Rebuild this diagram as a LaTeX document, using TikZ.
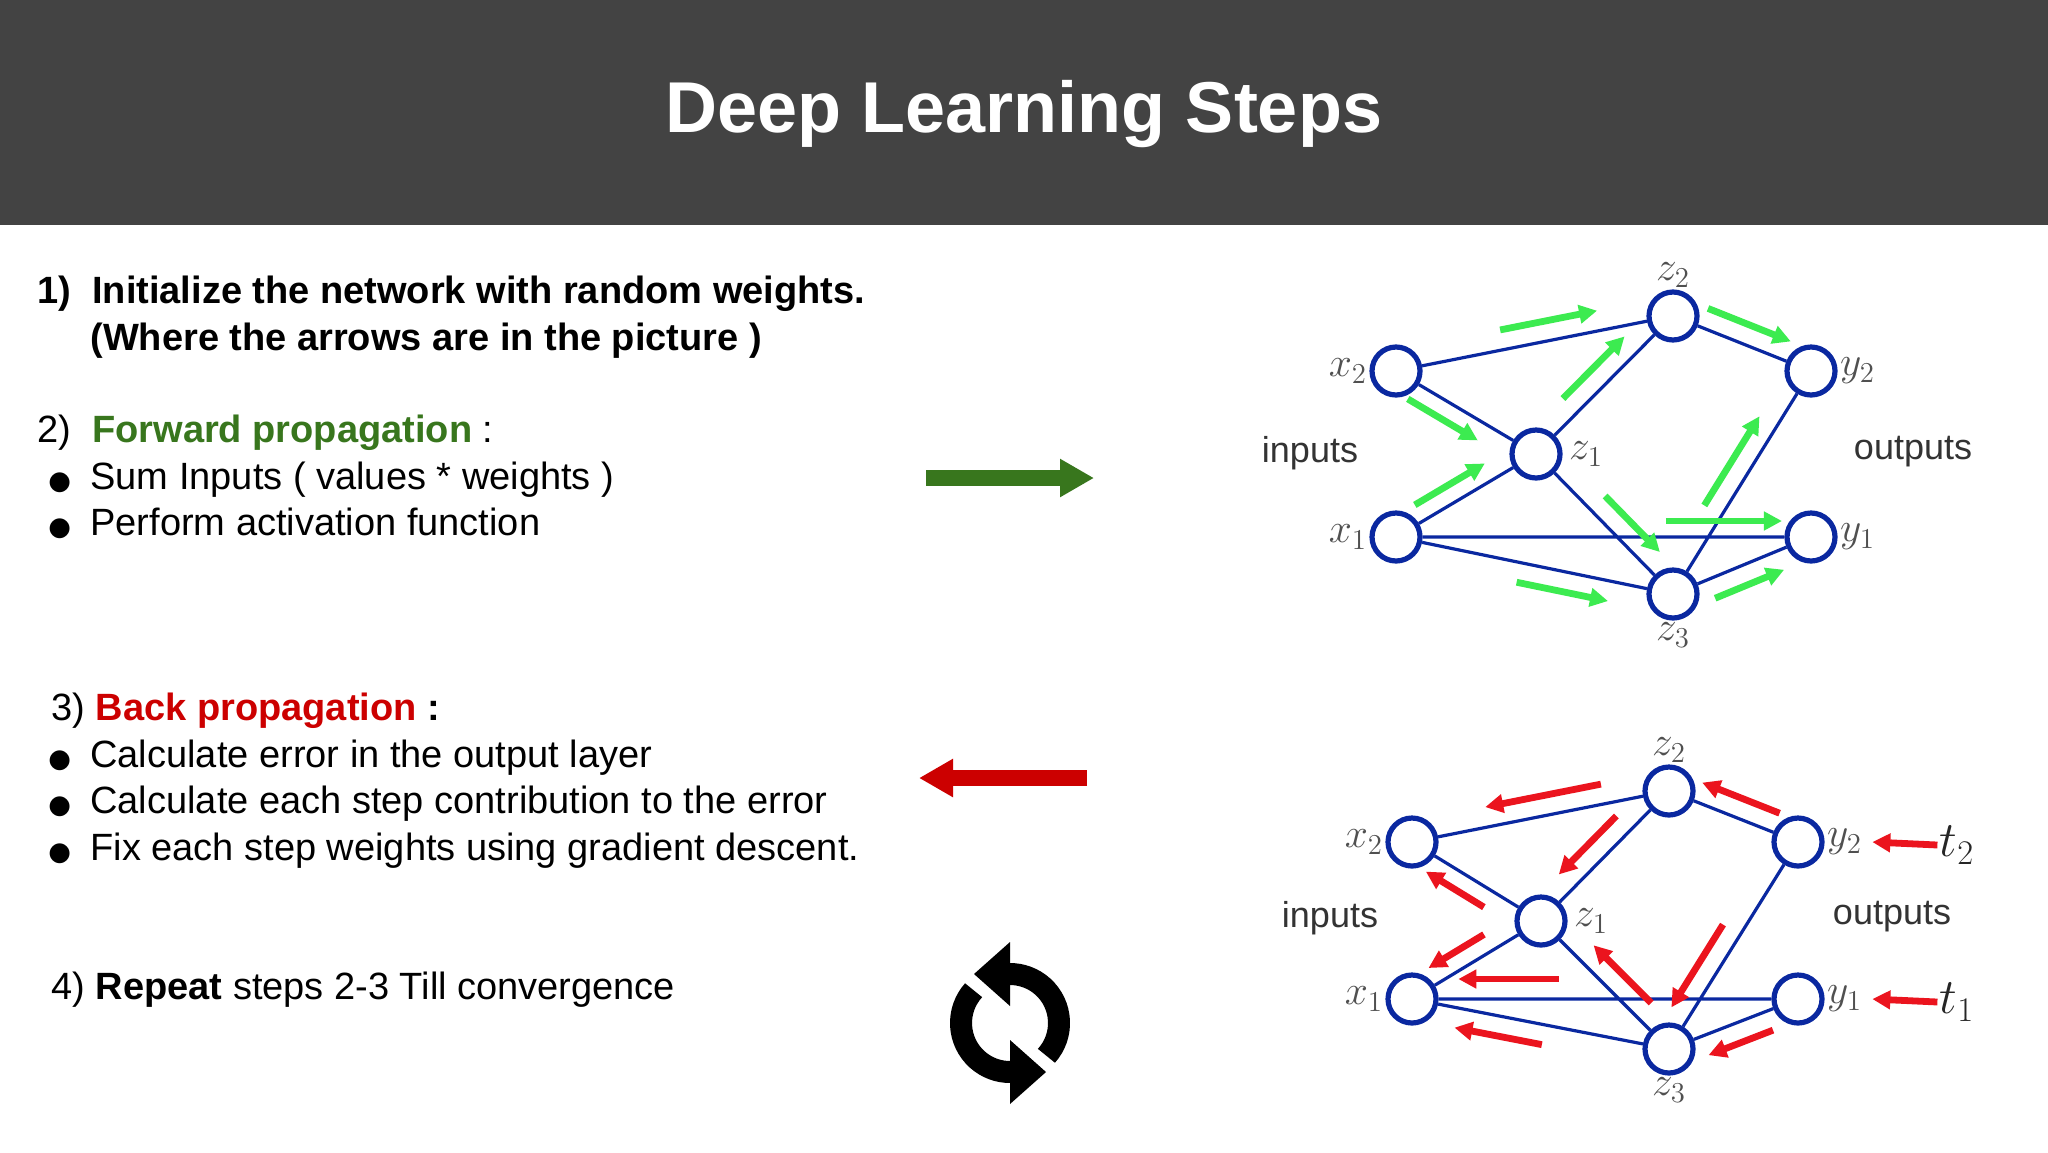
\documentclass[tikz,border=0pt]{standalone}
\usepackage{fontspec}
\setmainfont{Liberation Sans}
\newfontfamily\djv{DejaVu Sans}
\usetikzlibrary{calc,arrows.meta}
\definecolor{hdr}{HTML}{434343}
\definecolor{fgreen}{HTML}{38761D}
\definecolor{bred}{HTML}{CC0000}
\definecolor{nblue}{RGB}{10,40,160}
\definecolor{agreen}{RGB}{60,235,80}
\definecolor{ared}{RGB}{235,20,30}
\definecolor{lblg}{RGB}{80,80,80}
\tikzset{
  neuron/.style={circle,draw=nblue,line width=2.6pt,minimum size=24pt,inner sep=0pt,fill=white},
  edge/.style={draw=nblue,line width=1.6pt},
  body/.style={anchor=base west,font=\fontsize{19}{23}\selectfont,inner sep=0pt},
  mlbl/.style={text=lblg,font=\fontsize{20}{24}\selectfont,inner sep=1pt},
  slbl/.style={text=black!80,font=\fontsize{18}{22}\selectfont,inner sep=0pt},
  garr/.style={draw=agreen,line width=3.4pt,-{Triangle[length=9pt,width=9pt]}},
  rarr/.style={draw=ared,line width=3.4pt,-{Triangle[length=9pt,width=9pt]}},
  syncarc/.style={black,line width=11pt},
}
\newcommand\flowarr[6]{\draw[#1] ($($(#2)!#4!(#3)$)!#6!90:(#3)$) -- ($($(#2)!#5!(#3)$)!#6!90:(#3)$);}
\begin{document}
\begin{tikzpicture}[x=0.5pt,y=-0.5pt]
\useasboundingbox (0,0) rectangle (2048,1152);
\fill[white] (0,0) rectangle (2048,1152);
\fill[hdr] (0,0) rectangle (2048,225);
\node[text=white,font=\fontsize{36}{42}\bfseries] (title) at (1024,114) {Deep Learning Steps};

\node[body] (s1) at (37,303) {\textbf{1)\ \ Initialize the network with random weights.}};
\node[body] (s1b) at (90,350) {\textbf{(Where the arrows are in the picture )}};
\node[body] (s2) at (37,442) {2)\ \ \textcolor{fgreen}{\textbf{Forward propagation}} :};
\node[body] (b1) at (48,489) {{\djv\fontsize{13}{15}\selectfont ●}};
\node[body] (t1) at (90,489) {Sum Inputs ( values * weights )};
\node[body] (b2) at (48,535) {{\djv\fontsize{13}{15}\selectfont ●}};
\node[body] (t2) at (90,535) {Perform activation function};
\node[body] (s3) at (51,720) {3) \textcolor{bred}{\textbf{Back propagation}} \textbf{:}};
\node[body] (b3) at (48,767) {{\djv\fontsize{13}{15}\selectfont ●}};
\node[body] (t3) at (90,767) {Calculate error in the output layer};
\node[body] (b4) at (48,813) {{\djv\fontsize{13}{15}\selectfont ●}};
\node[body] (t4) at (90,813) {Calculate each step contribution to the error};
\node[body] (b5) at (48,860) {{\djv\fontsize{13}{15}\selectfont ●}};
\node[body] (t5) at (90,860) {Fix each step weights using gradient descent.};
\node[body] (s4) at (51,999) {4) \textbf{Repeat} steps 2-3 Till convergence};

% big arrows
\coordinate (ga) at (926,478); \coordinate (gb) at (1094,478);
\draw[fgreen,line width=8pt,-{Triangle[length=17pt,width=18pt]}] (ga) -- (gb);
\coordinate (ra) at (1087,778); \coordinate (rb) at (919,778);
\draw[bred,line width=8pt,-{Triangle[length=17pt,width=18pt]}] (ra) -- (rb);

% refresh icon
\coordinate (rc) at (1010,1023);
\begin{scope}[shift={(rc)},x=1pt,y=1pt]
\draw[syncarc] (-42:24.5) arc (-42:91:24.5);
\fill[black] (0,8.5) -- (0,40.5) -- (-18,24.5) -- cycle;
\draw[syncarc] (138:24.5) arc (138:271:24.5);
\fill[black] (0,-8.5) -- (0,-40.5) -- (18,-24.5) -- cycle;
\end{scope}

% top network
\node[neuron] (x2) at (1396,371) {};
\node[neuron] (z2) at (1673,316) {};
\node[neuron] (y2) at (1811,371) {};
\node[neuron] (z1) at (1536,454) {};
\node[neuron] (x1) at (1396,537) {};
\node[neuron] (y1) at (1811,537) {};
\node[neuron] (z3) at (1673,594) {};
\path[edge] (x2)--(z2) (x2)--(z1) (z1)--(z2) (z1)--(x1) (z1)--(z3) (x1)--(y1) (x1)--(z3) (z2)--(y2) (y2)--(z3) (z3)--(y1);
\node[mlbl,anchor=east] (lx2) at (x2.west) {$x_2$};
\node[mlbl,anchor=east] (lx1) at (x1.west) {$x_1$};
\node[mlbl,anchor=west] (ly2) at (y2.east) {$y_2$};
\node[mlbl,anchor=west] (ly1) at (y1.east) {$y_1$};
\node[mlbl,anchor=west] (lz1) at ([xshift=2pt]z1.east) {$z_1$};
\node[mlbl,anchor=south] (lz2) at (z2.north) {$z_2$};
\node[mlbl,anchor=north] (lz3) at (z3.south) {$z_3$};
\node[slbl] (inp) at (1310,453) {inputs};
\node[slbl] (outp) at (1913,452) {outputs};
\flowarr{garr}{x2}{z2}{0.39}{0.74}{10pt}
\flowarr{garr}{x2}{z1}{0.15}{0.65}{-9pt}
\flowarr{garr}{x1}{z1}{0.2}{0.7}{9pt}
\flowarr{garr}{z1}{z2}{0.3}{0.75}{10pt}
\flowarr{garr}{z2}{y2}{0.2}{0.8}{10pt}
\flowarr{garr}{z1}{z3}{0.4}{0.8}{10pt}
\flowarr{garr}{x1}{y1}{0.65}{0.93}{8pt}
\flowarr{garr}{x1}{z3}{0.45}{0.78}{-10pt}
\flowarr{garr}{z3}{y2}{0.35}{0.75}{10pt}
\flowarr{garr}{z3}{y1}{0.25}{0.75}{-10pt}

% bottom network
\node[neuron] (bx2) at (1412,842) {};
\node[neuron] (bz2) at (1669,791) {};
\node[neuron] (by2) at (1798,842) {};
\node[neuron] (bz1) at (1541,921) {};
\node[neuron] (bx1) at (1412,999) {};
\node[neuron] (by1) at (1798,999) {};
\node[neuron] (bz3) at (1669,1049) {};
\path[edge] (bx2)--(bz2) (bx2)--(bz1) (bz1)--(bz2) (bz1)--(bx1) (bz1)--(bz3) (bx1)--(by1) (bx1)--(bz3) (bz2)--(by2) (by2)--(bz3) (bz3)--(by1);
\node[mlbl,anchor=east] (blx2) at (bx2.west) {$x_2$};
\node[mlbl,anchor=east] (blx1) at (bx1.west) {$x_1$};
\node[mlbl,anchor=west] (bly2) at (by2.east) {$y_2$};
\node[mlbl,anchor=west] (bly1) at (by1.east) {$y_1$};
\node[mlbl,anchor=west] (blz1) at ([xshift=2pt]bz1.east) {$z_1$};
\node[mlbl,anchor=south] (blz2) at (bz2.north) {$z_2$};
\node[mlbl,anchor=north] (blz3) at (bz3.south) {$z_3$};
\node[mlbl,text=black!85,font=\fontsize{24}{28}\selectfont] (bt2) at (1957,845) {$t_2$};
\node[mlbl,text=black!85,font=\fontsize{24}{28}\selectfont] (bt1) at (1957,1002) {$t_1$};
\draw[rarr] (bt2.west) -- ([xshift=4pt]bly2.east);
\draw[rarr] (bt1.west) -- ([xshift=4pt]bly1.east);
\node[slbl] (binp) at (1330,918) {inputs};
\node[slbl] (boutp) at (1892,917) {outputs};
\flowarr{rarr}{bz2}{bx2}{0.25}{0.7}{-10pt}
\flowarr{rarr}{by2}{bz2}{0.2}{0.8}{-10pt}
\flowarr{rarr}{bz2}{bz1}{0.3}{0.75}{-10pt}
\flowarr{rarr}{bz1}{bx2}{0.37}{0.82}{9pt}
\flowarr{rarr}{bz1}{bx1}{0.37}{0.8}{-9pt}
\flowarr{rarr}{by1}{bx1}{0.62}{0.88}{-10pt}
\flowarr{rarr}{bz3}{bx1}{0.48}{0.82}{10pt}
\flowarr{rarr}{bz3}{bz1}{0.25}{0.7}{-10pt}
\flowarr{rarr}{by2}{bz3}{0.45}{0.85}{-10pt}
\flowarr{rarr}{by1}{bz3}{0.25}{0.75}{10pt}
\end{tikzpicture}
\end{document}
